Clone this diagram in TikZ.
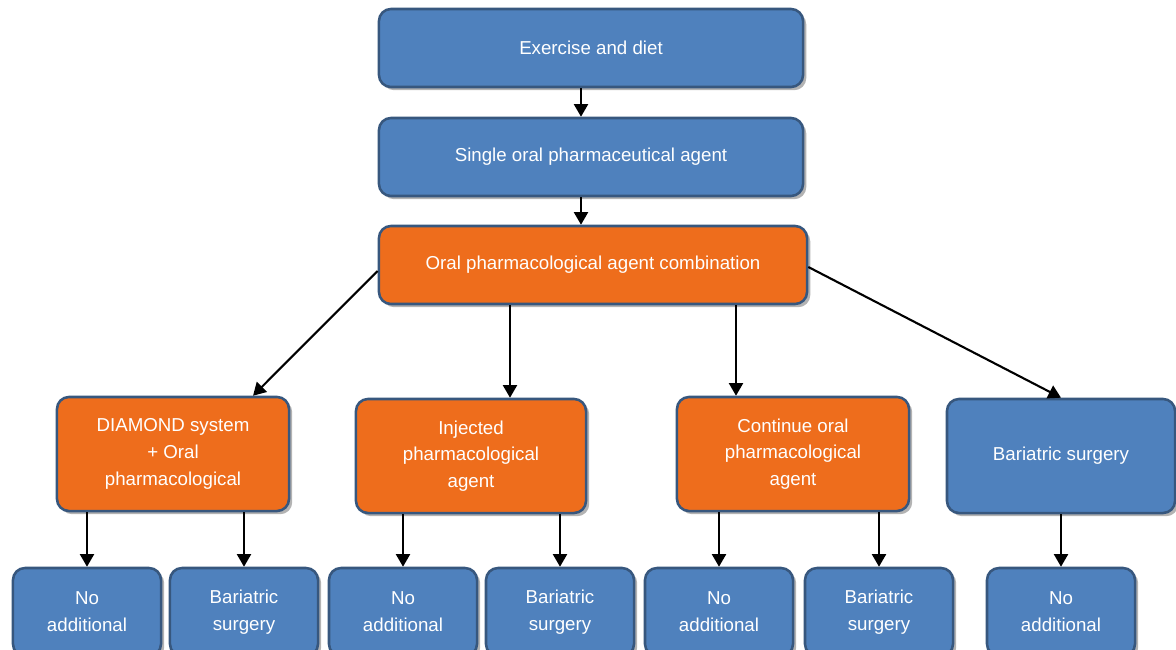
\documentclass[tikz,border=0pt]{standalone}
\usepackage{fontspec}
\setmainfont{Liberation Sans}
\usetikzlibrary{shadows,arrows.meta}
\definecolor{boxblue}{HTML}{4F81BD}
\definecolor{boxorange}{HTML}{EE6D1C}
\definecolor{boxline}{HTML}{37577E}
\begin{document}
\begin{tikzpicture}[>={Triangle[length=9pt,width=10pt]}, x=.025cm, y=-.025cm,
    box/.style={rectangle, rounded corners=.3cm, draw=boxline, line width=1.8pt,
        text=white, align=center, font=\fontsize{13.3}{19}\selectfont,
        drop shadow={shadow xshift=.08cm, shadow yshift=-.08cm, opacity=.6}},
    bluebox/.style={box, fill=boxblue},
    orangebox/.style={box, fill=boxorange},
    arr/.style={->, line width=1.5pt}]
    \useasboundingbox (0,0) rectangle (1176,650);
    % top chain
    \node [bluebox, minimum width=10.6cm, minimum height=1.95cm] (ex) at (591,48) {Exercise and diet};
    \node [bluebox, minimum width=10.6cm, minimum height=1.95cm] (single) at (591,157) {Single oral pharmaceutical agent};
    \node [orangebox, minimum width=10.7cm, minimum height=1.95cm] (comb) at (593,265) {Oral pharmacological agent combination};
    % second row
    \node [orangebox, minimum width=5.8cm, minimum height=2.85cm] (dia) at (173,454) {DIAMOND system\\+ Oral\\pharmacological};
    \node [orangebox, minimum width=5.75cm, minimum height=2.85cm] (inj) at (471,456) {Injected\\pharmacological\\agent};
    \node [orangebox, minimum width=5.8cm, minimum height=2.85cm] (cont) at (793,454) {Continue oral\\pharmacological\\agent};
    \node [bluebox, minimum width=5.7cm, minimum height=2.85cm] (bar) at (1061,456) {Bariatric surgery};
    % bottom row
    \foreach \name/\x/\txt in {noa/87/{No\\additional}, bara/244/{Bariatric\\surgery},
        nob/403/{No\\additional}, barb/560/{Bariatric\\surgery},
        noc/719/{No\\additional}, barc/879/{Bariatric\\surgery},
        nod/1061/{No\\additional}}
    {
        \node [bluebox, minimum width=3.7cm, minimum height=2.2cm] (\name) at (\x,612) {\txt};
    }
    % connectors
    \draw [arr] (ex.south -| 581,0) -- (single.north -| 581,0);
    \draw [arr] (single.south -| 581,0) -- (comb.north -| 581,0);
    \draw [arr] ([yshift=-.15cm]comb.west) -- ([xshift=2cm]dia.north);
    \draw [arr] (comb.south -| 510,0) -- (inj.north -| 510,0);
    \draw [arr] (comb.south -| 736,0) -- (cont.north -| 736,0);
    \draw [arr] ([yshift=-.05cm]comb.east) -- (bar.north);
    \foreach \from/\to in {dia/noa, dia/bara, inj/nob, inj/barb, cont/noc, cont/barc, bar/nod}
    {
        \draw [arr] (\from.south -| \to.north) -- (\to.north);
    }
\end{tikzpicture}
\end{document}
